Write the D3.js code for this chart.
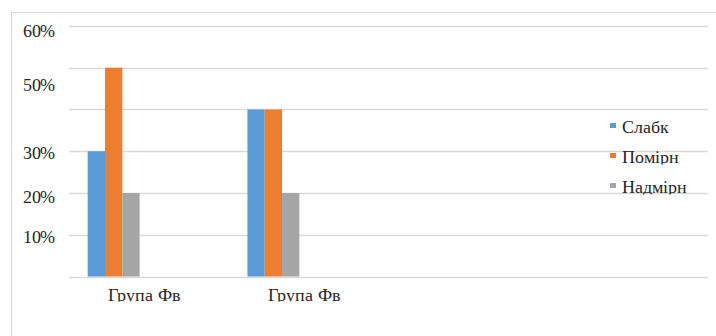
<!DOCTYPE html>
<html><head><meta charset="utf-8">
<script src="https://cdn.jsdelivr.net/npm/d3@7"></script>
<style>
@font-face { font-family: "ChartSerif"; src: local("Liberation Serif"), local("LiberationSerif"), local("Liberation Serif Regular"), local("LiberationSerif-Regular"); }
body{margin:0;background:#fff}
svg{display:block}
svg text{font-family:"ChartSerif","Times New Roman",serif;}
</style>
</head><body>
<svg id="c" width="716" height="336"></svg>
<script>
const categories = ["Група Фв", "Група Фв", "", ""];
const seriesNames = ["Слабк", "Помірн", "Надмірн"];
const slabk   = [0.30, 0.40, null, null];
const pomirn  = [0.50, 0.40, null, null];
const nadmirn = [0.20, 0.20, null, null];
const tickLabels = [0.1, 0.2, 0.3, 0.5, 0.6];
const gridValues = [0, 0.1, 0.2, 0.3, 0.4, 0.5, 0.6];
const colors = ["#5b9bd5", "#ed7d31", "#a5a5a5"];

const series = [slabk, pomirn, nadmirn];
const svg = d3.select("#c");
const textCol = "#262626";

// outer frame
svg.append("rect").attr("x", 11.5).attr("y", 12.5).attr("width", 760).attr("height", 400)
  .attr("fill", "none").attr("stroke", "#d9d9d9").attr("stroke-width", 1);

const x0 = d3.scaleBand().domain(d3.range(categories.length)).range([69, 708]);
const bw = x0.bandwidth();
const x1 = d3.scaleBand().domain(d3.range(seriesNames.length))
  .range([bw * 0.117, bw * 0.117 + bw * 0.325]);
const y = d3.scaleLinear().domain([0, 0.6]).range([276.5, 26]);

// gridlines
svg.append("g").selectAll("line").data(gridValues).join("line")
  .attr("x1", 69).attr("x2", 708)
  .attr("y1", d => Math.round(y(d)) + 0.5).attr("y2", d => Math.round(y(d)) + 0.5)
  .attr("stroke", "#d9d9d9").attr("stroke-width", 1.3);

// bars
const groups = svg.append("g").selectAll("g").data(categories).join("g")
  .attr("transform", (d, i) => `translate(${x0(i)},0)`);
groups.selectAll("rect").data((d, i) => series.map((s, k) => ({k, v: s[i]})).filter(o => o.v != null))
  .join("rect")
  .attr("x", d => x1(d.k)).attr("width", x1.bandwidth())
  .attr("y", d => y(d.v)).attr("height", d => y(0) - y(d.v))
  .attr("fill", d => colors[d.k]);

// y axis labels
const labelNudge = {0.1: 8, 0.2: 9, 0.3: 7.5, 0.5: 23, 0.6: 10};
const yAxis = d3.axisLeft(y).tickValues(tickLabels).tickSize(0).tickPadding(0)
  .tickFormat(d3.format(".0%"));
const ya = svg.append("g").attr("transform", "translate(55,0)").call(yAxis)
  .attr("font-family", null).attr("font-size", null);
ya.select(".domain").remove();
ya.selectAll("text").attr("fill", textCol).attr("dy", null)
  .attr("y", d => labelNudge[d]).attr("letter-spacing", -0.4).style("font-size", "18px");

// x labels (clipped at baseline)
const defs = svg.append("defs");
defs.append("clipPath").attr("id", "xclip").append("rect")
  .attr("x", 0).attr("y", 280).attr("width", 716).attr("height", 21.5);
const xAxis = d3.axisBottom(x0).tickSize(0).tickPadding(0).tickFormat(i => categories[i]);
const xa = svg.append("g").attr("transform", "translate(-4,0)").attr("clip-path", "url(#xclip)")
  .append("g").attr("transform", "translate(0,300.5)").call(xAxis)
  .attr("font-family", null).attr("font-size", null);
xa.select(".domain").remove();
xa.selectAll("text").attr("fill", textCol).attr("dy", null).attr("y", 0).style("font-size", "17.5px");

// legend
const leg = svg.append("g").selectAll("g").data(seriesNames).join("g")
  .attr("transform", (d, i) => `translate(610,${133 + i * 30})`);
defs.append("clipPath").attr("id", "lc").append("rect")
  .attr("x", -10).attr("y", -20).attr("width", 110).attr("height", 21.5);
leg.append("rect").attr("x", 0).attr("y", -10).attr("width", 6).attr("height", 5)
  .attr("fill", (d, i) => colors[i]);
leg.append("text").attr("x", 11.5).attr("y", 0).text(d => d)
  .attr("fill", textCol).attr("clip-path", "url(#lc)").style("font-size", "17.5px");
</script>
</body></html>
